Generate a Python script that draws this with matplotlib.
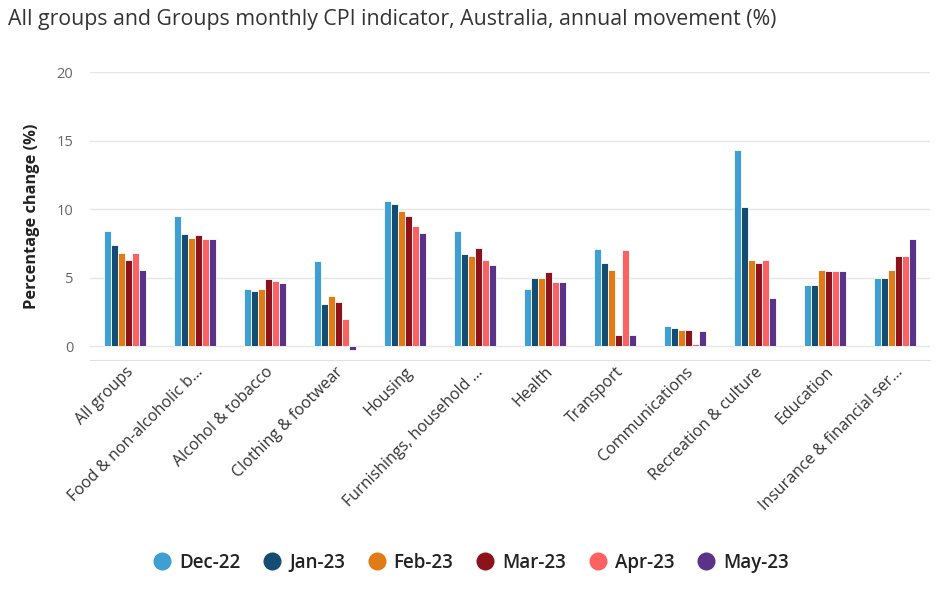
import numpy as np
import matplotlib.pyplot as plt
from matplotlib.lines import Line2D

plt.rcParams['font.family'] = ['Open Sans', 'DejaVu Sans']

# Categorías (etiquetas tal como aparecen, truncadas)
categories = ['All groups', 'Food & non-alcoholic b…', 'Alcohol & tobacco',
              'Clothing & footwear', 'Housing', 'Furnishings, household …',
              'Health', 'Transport', 'Communications', 'Recreation & culture',
              'Education', 'Insurance & financial ser…']

months = ['Dec-22', 'Jan-23', 'Feb-23', 'Mar-23', 'Apr-23', 'May-23']

dec22 = [8.4, 9.5, 4.2, 6.2, 10.6, 8.4, 4.2, 7.1, 1.5, 14.3, 4.5, 5.0]
jan23 = [7.4, 8.2, 4.0, 3.1, 10.4, 6.7, 5.0, 6.1, 1.3, 10.2, 4.5, 5.0]
feb23 = [6.8, 7.9, 4.2, 3.7, 9.9, 6.6, 5.0, 5.6, 1.2, 6.3, 5.6, 5.6]
mar23 = [6.3, 8.1, 4.9, 3.2, 9.5, 7.2, 5.4, 0.8, 1.2, 6.1, 5.5, 6.6]
apr23 = [6.8, 7.8, 4.8, 2.0, 8.8, 6.3, 4.7, 7.0, 0.2, 6.3, 5.5, 6.6]
may23 = [5.6, 7.8, 4.6, -0.3, 8.3, 5.9, 4.7, 0.8, 1.1, 3.5, 5.5, 7.8]

series = [dec22, jan23, feb23, mar23, apr23, may23]
colors = ['#3f9fd3', '#134d73', '#e07b16', '#8c121b', '#fd6262', '#5a3388']

fig = plt.figure(figsize=(9.44, 5.97), dpi=100)
ax = fig.add_axes([0.0953, 0.397, 0.89, 0.482])

x = np.arange(len(categories))
bar_w = 0.1
for i, (vals, c) in enumerate(zip(series, colors)):
    offs = (i - 2.5) * bar_w
    ax.bar(x + offs, vals, width=bar_w, color=c, edgecolor='white',
           linewidth=0.6, label=months[i], zorder=3)

ax.set_xlim(-0.5, len(categories) - 0.5)
ax.set_ylim(-1, 20)
ax.set_yticks([0, 5, 10, 15, 20])
ax.yaxis.grid(True, color='#e6e6e6', linewidth=1, zorder=0)
ax.tick_params(axis='y', length=0, labelsize=10.5, colors='#666666', pad=12)
ax.tick_params(axis='x', length=0, pad=3)
ax.set_xticks(x)
ax.set_xticklabels(categories, rotation=45, ha='right', rotation_mode='anchor',
                   fontsize=11.5, color='#333333')

for s in ['top', 'right', 'left']:
    ax.spines[s].set_visible(False)
ax.spines['bottom'].set_color('#e0e0e0')

ax.set_ylabel('Percentage change (%)', fontsize=11.8, fontweight='bold',
              color='#222222', labelpad=12)

fig.text(0.008, 0.967, 'All groups and Groups monthly CPI indicator, Australia, annual movement (%)',
         fontsize=15.3, color='#333333', va='center', ha='left')

handles = [Line2D([0], [0], marker='o', color='w', markerfacecolor=c,
                  markersize=14, linestyle='') for c in colors]
fig.legend(handles, months, loc='center', bbox_to_anchor=(0.4985, 0.057),
           ncol=6, frameon=False, handlelength=1.0, handletextpad=0.4,
           columnspacing=1.2, prop={'weight': 'semibold', 'size': 13.5},
           labelcolor='#222222')

fig.savefig('out.png', dpi=100)
